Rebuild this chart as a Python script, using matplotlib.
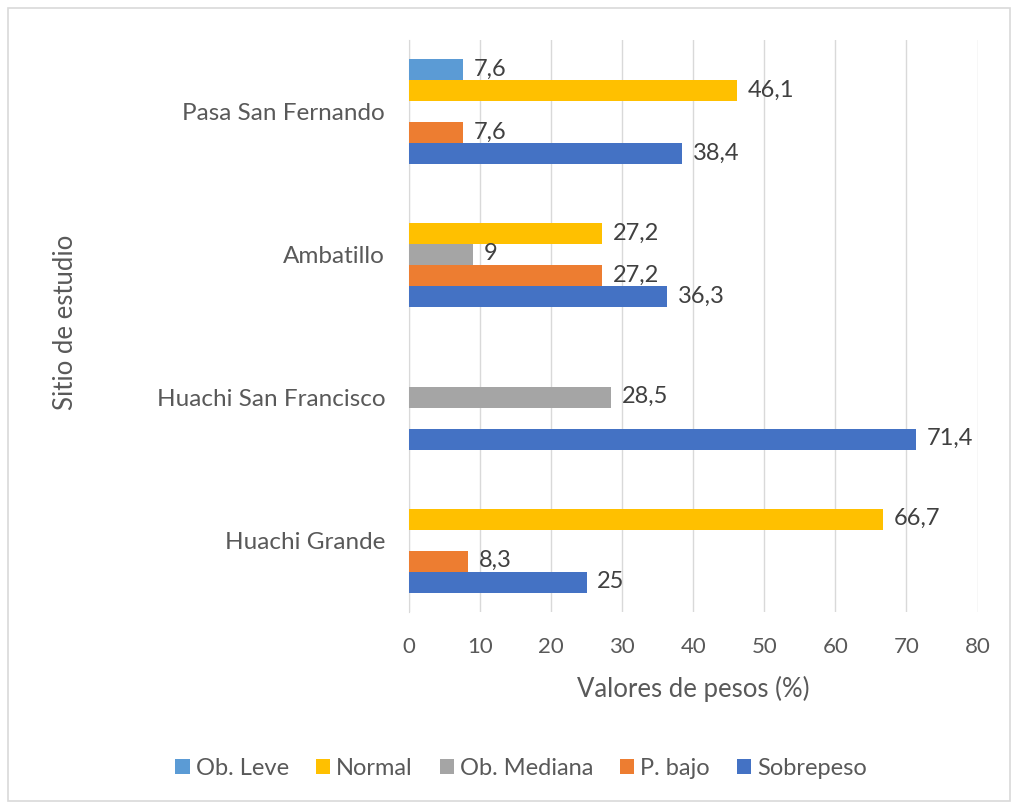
import numpy as np
import matplotlib.pyplot as plt
from matplotlib.patches import Rectangle

plt.rcParams['font.family'] = ['Lato', 'DejaVu Sans']

# sites, bottom to top as drawn
sites = ['Huachi Grande', 'Huachi San Francisco', 'Ambatillo', 'Pasa San Fernando']

# series, bottom to top inside each group (0 = no bar)
series = ['Sobrepeso', 'P. bajo', 'Ob. Mediana', 'Normal', 'Ob. Leve']
sobrepeso = [25, 71.4, 36.3, 38.4]
p_bajo = [8.3, 0, 27.2, 7.6]
ob_mediana = [0, 28.5, 9, 0]
normal = [66.7, 0, 27.2, 46.1]
ob_leve = [0, 0, 0, 7.6]
colors = ['#4472C4', '#ED7D31', '#A5A5A5', '#FFC000', '#5B9BD5']

values = [sobrepeso, p_bajo, ob_mediana, normal, ob_leve]
txt = '#595959'

fig = plt.figure(figsize=(10.12, 8.05), dpi=100)
ax = fig.add_axes([0.404, 0.24, 0.562, 0.71])

y = np.arange(len(sites))
h = 0.147
bars = []
for i, (name, vals, c) in enumerate(zip(series, values, colors)):
    pos = y + (i - 2) * h
    b = ax.barh(pos, vals, height=h, color=c, label=name, zorder=3)
    bars.append(b)
    for p, v in zip(pos, vals):
        if v > 0:
            ax.text(v + 1.5, p + 0.005, str(v).replace('.', ','), va='center', ha='left',
                    fontsize=17, color='#404040', zorder=4)

ax.set_xlim(0, 80)
ax.set_ylim(-0.5, 3.5)
ax.set_xticks(range(0, 81, 10))
ax.set_yticks(y)
ax.set_yticklabels(sites, fontsize=17.5, color=txt)
ax.tick_params(axis='x', labelsize=16, labelcolor=txt, length=0, pad=18.5)
ax.tick_params(axis='y', length=0, pad=17)
ax.grid(True, axis='x', color='#D9D9D9', linewidth=1, zorder=0)
for s in ['top', 'right', 'bottom']:
    ax.spines[s].set_visible(False)
ax.spines['left'].set_color('#D9D9D9')
ax.set_xlabel('Valores de pesos (%)', fontsize=18.5, color=txt, labelpad=13)
fig.text(0.065, 0.60, 'Sitio de estudio', rotation=90, fontsize=18.5, color=txt,
         ha='center', va='center')

handles = bars[::-1]
fig.legend(handles, [b.get_label() for b in handles], loc='center', bbox_to_anchor=(0.515, 0.045),
           ncol=5, frameon=False, fontsize=17, handlelength=0.6, handleheight=0.6,
           handletextpad=0.25, columnspacing=1.15, labelcolor=txt)

fig.patches.append(Rectangle((0.008, 0.005), 0.99, 0.985, transform=fig.transFigure,
                             fill=False, edgecolor='#D9D9D9', linewidth=1.2))

fig.savefig('out.png', dpi=100)
